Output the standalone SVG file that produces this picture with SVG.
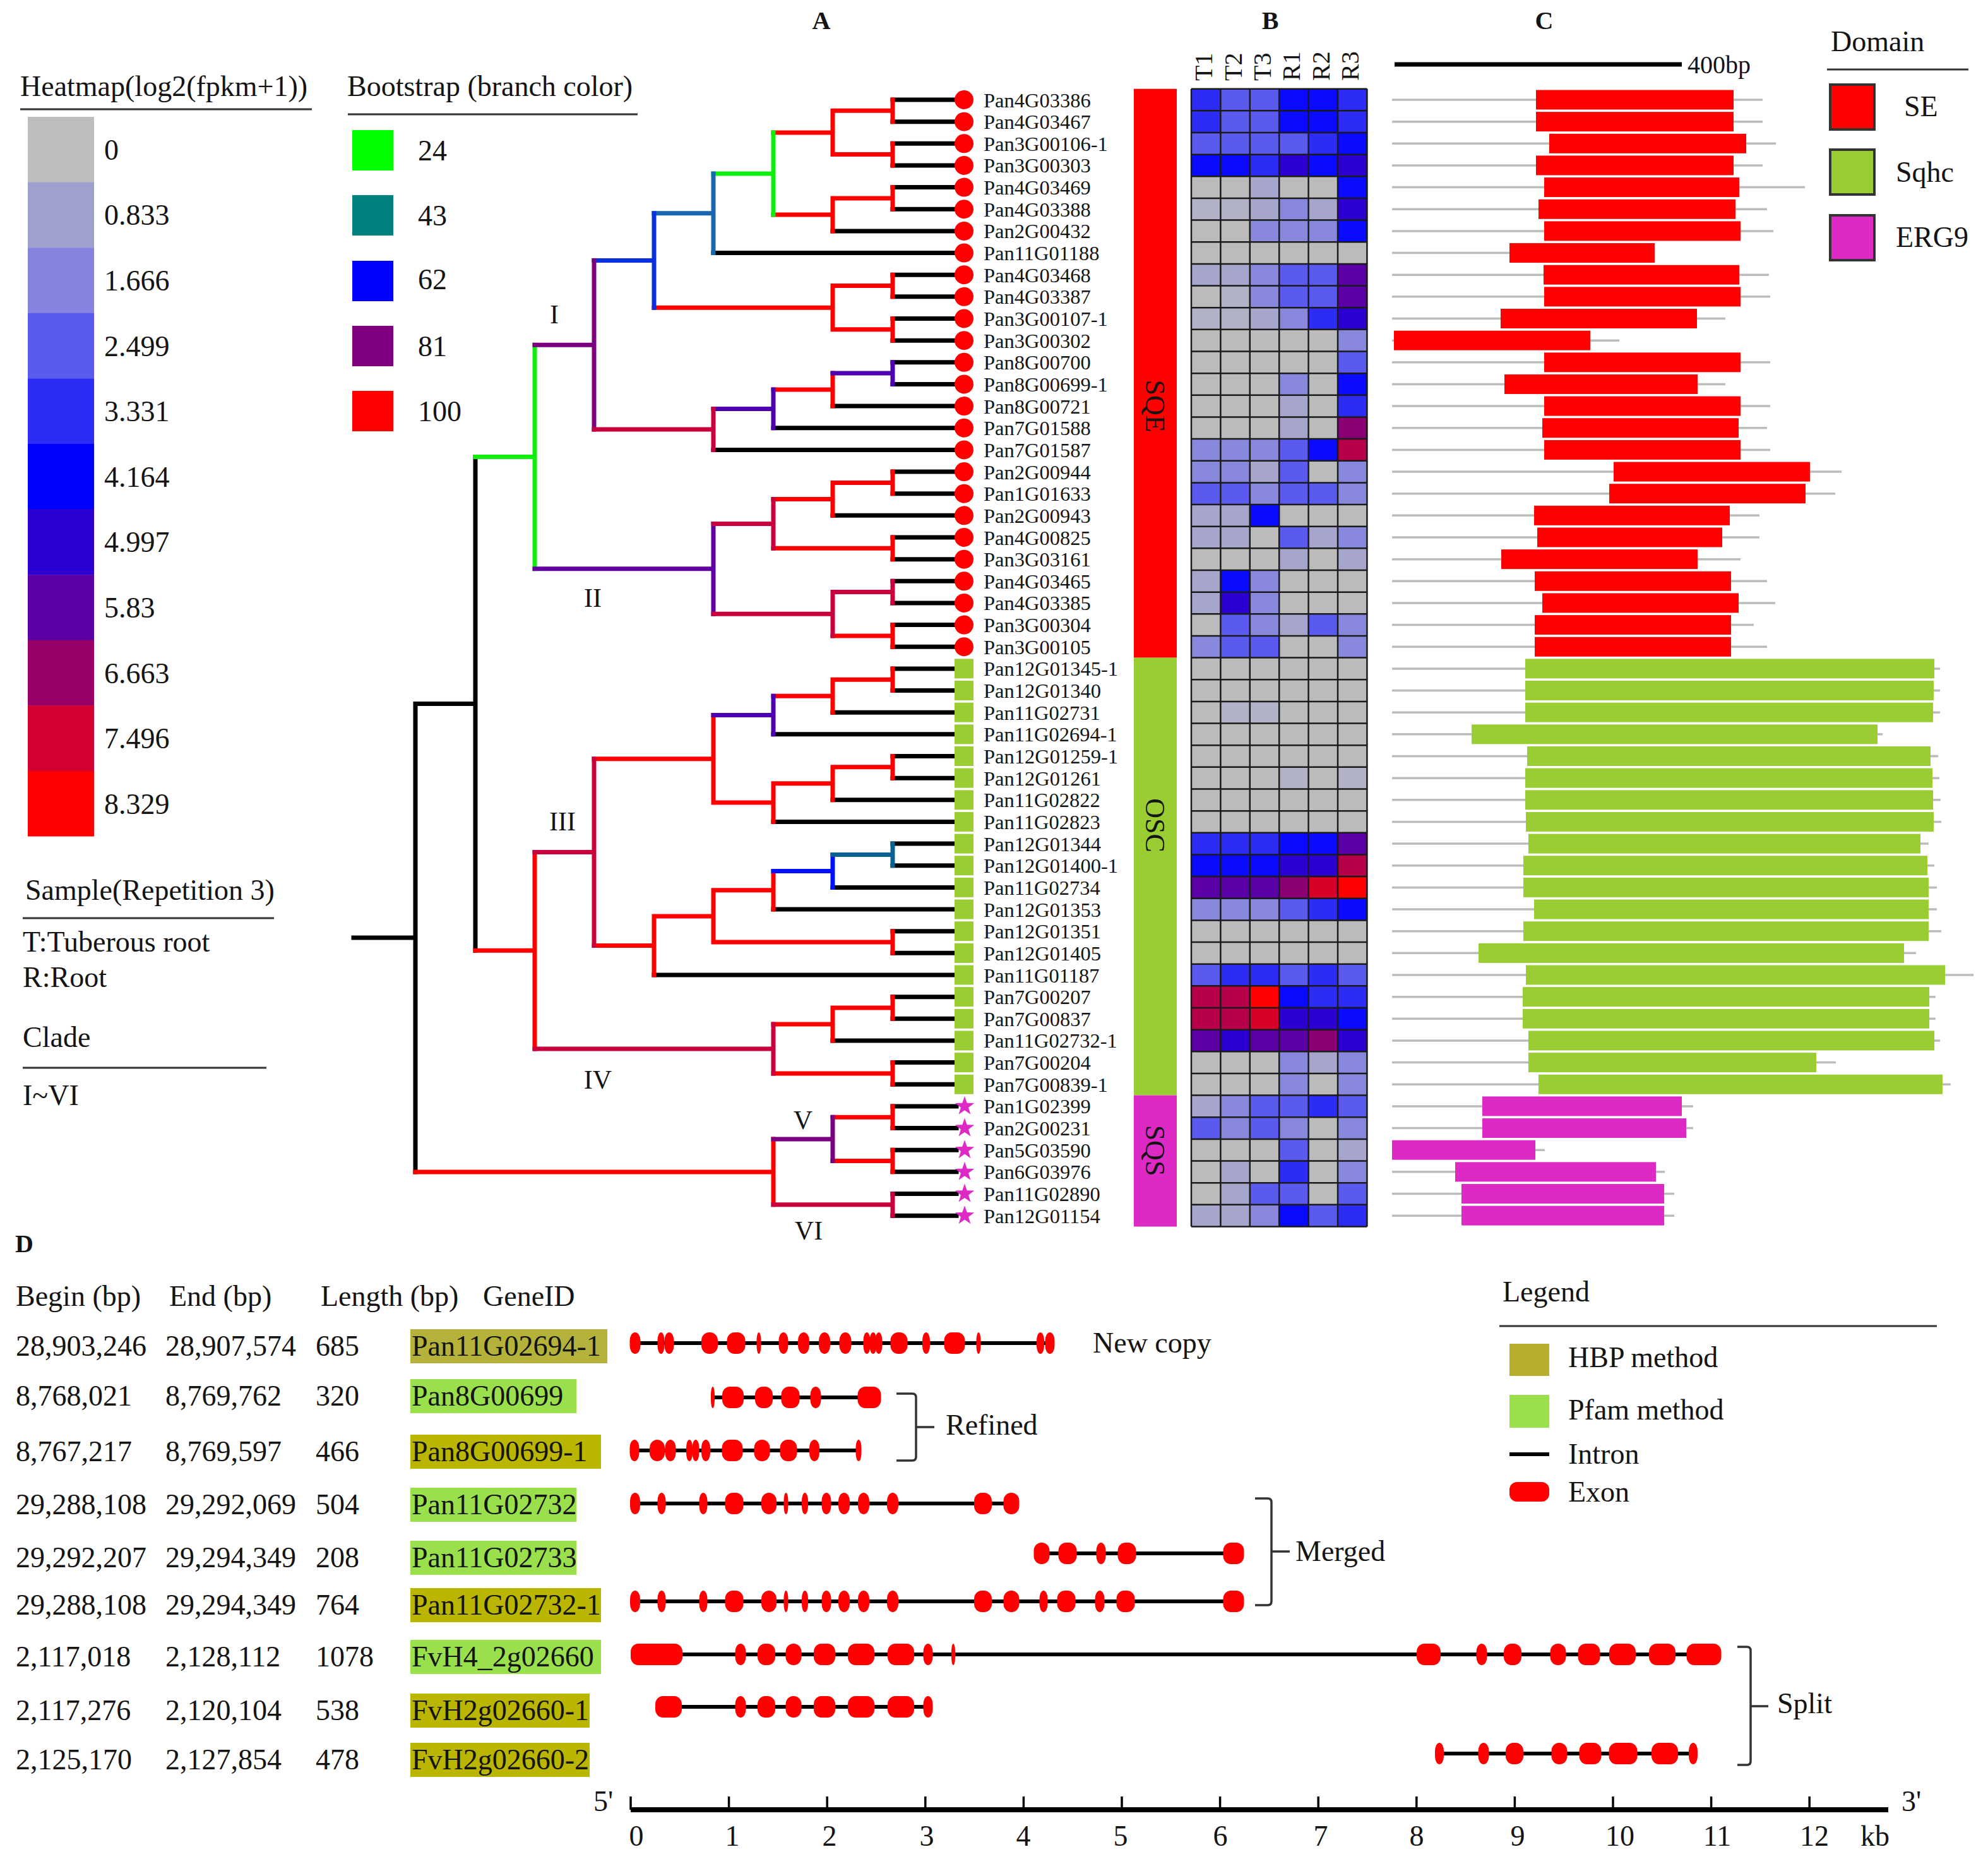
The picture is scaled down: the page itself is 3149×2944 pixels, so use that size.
<svg xmlns="http://www.w3.org/2000/svg" width="3149" height="2944" viewBox="0 0 3149 2944">
<style>
text{font-family:"Liberation Serif","Times New Roman",serif;fill:#141414}
.f46{font-size:46px}
.lf{font-size:32.5px}
.pl{font-size:40px;font-weight:bold;text-anchor:middle}
.cl{font-size:42px;text-anchor:middle}
.hd{font-size:40px}
.cat{font-size:44px;text-anchor:middle}
.ul{stroke:#333;stroke-width:3;fill:none}
.br{fill:none;stroke-width:7;stroke-linecap:square}
.k{stroke:#000}.r{stroke:#ff0000}.g{stroke:#10ee10}.sb{stroke:#1a66b0}.bl{stroke:#0a30e0}.b0{stroke:#0010ff}.tl{stroke:#0a6090}.p{stroke:#7a0080}.p2{stroke:#6000a0}.pb{stroke:#4c00b0}.c{stroke:#c8003c}
.h0{fill:#bbbbbb}.ha{fill:#b2b2c6}.h1{fill:#a6a6cc}.h2{fill:#8787dc}.h3{fill:#5a5aee}.h4{fill:#2c2cf4}.h5{fill:#0a0aff}.h6{fill:#2d00d2}.h7{fill:#5a00a5}.h8{fill:#8a0074}.h9{fill:#b8004a}.h95{fill:#d80028}.h10{fill:#ff0000}
.se{fill:#ff0000}.sq{fill:#9acd32}.er{fill:#dd2ac4}
.gl{stroke:#bcbcbc;stroke-width:3.5;fill:none}
.ex{fill:#ff0000}
.itr{stroke:#000;stroke-width:6;fill:none}
.bk{stroke:#333;stroke-width:3.5;fill:none}
.grid{stroke:#1a1a1a;stroke-width:2.5;fill:none}
.lgb{stroke:#333;stroke-width:4}
.hbp{fill:#bab600}.hbp1{fill:#b4b23a}.pf{fill:#99e04c}
</style>
<defs>
<polygon id="star" points="0,-16 3.76,-5.18 15.22,-4.94 6.09,1.98 9.4,12.94 0,6.4 -9.4,12.94 -6.09,1.98 -15.22,-4.94 -3.76,-5.18"/>
</defs>
<rect width="3149" height="2944" fill="#fff"/>

<!-- Panel labels -->
<g id="panel-labels">
<text x="1301" y="46" class="pl">A</text>
<text x="2012" y="46" class="pl">B</text>
<text x="2446" y="46" class="pl">C</text>
<text x="24" y="1983" class="pl" style="text-anchor:start">D</text>
</g>

<!-- Heatmap legend -->
<g id="heatmap-legend">
<text x="32" y="152" class="f46">Heatmap(log2(fpkm+1))</text>
<path class="ul" d="M32 173H494"/>
<rect x="44" y="185" width="105" height="104" fill="#bebebe"/>
<rect x="44" y="288.6" width="105" height="104" fill="#a0a0d0"/>
<rect x="44" y="392.2" width="105" height="104" fill="#8484de"/>
<rect x="44" y="495.8" width="105" height="104" fill="#5a5aee"/>
<rect x="44" y="599.4" width="105" height="104" fill="#2c2cf4"/>
<rect x="44" y="703" width="105" height="104" fill="#0000ff"/>
<rect x="44" y="806.6" width="105" height="104" fill="#2d00d2"/>
<rect x="44" y="910.2" width="105" height="104" fill="#5a00a5"/>
<rect x="44" y="1013.8" width="105" height="104" fill="#990066"/>
<rect x="44" y="1117.4" width="105" height="104" fill="#d10030"/>
<rect x="44" y="1221" width="105" height="103.6" fill="#ff0000"/>
<text x="165" y="252.8" class="f46">0</text>
<text x="165" y="356.4" class="f46">0.833</text>
<text x="165" y="460" class="f46">1.666</text>
<text x="165" y="563.6" class="f46">2.499</text>
<text x="165" y="667.2" class="f46">3.331</text>
<text x="165" y="770.8" class="f46">4.164</text>
<text x="165" y="874.4" class="f46">4.997</text>
<text x="165" y="978" class="f46">5.83</text>
<text x="165" y="1081.6" class="f46">6.663</text>
<text x="165" y="1185.2" class="f46">7.496</text>
<text x="165" y="1288.8" class="f46">8.329</text>
</g>

<g id="sample-legend">
<text x="40" y="1425" class="f46">Sample(Repetition 3)</text>
<path class="ul" d="M36 1454H434"/>
<text x="36" y="1507" class="f46">T:Tuberous root</text>
<text x="36" y="1563" class="f46">R:Root</text>
<text x="36" y="1658" class="f46">Clade</text>
<path class="ul" d="M36 1691H422"/>
<text x="36" y="1750" class="f46">I~VI</text>
</g>

<g id="bootstrap-legend">
<text x="550" y="152" class="f46">Bootstrap (branch color)</text>
<path class="ul" d="M551 181H1010"/>
<rect x="558" y="206" width="65" height="64" fill="#00ff00"/>
<rect x="558" y="309" width="65" height="64" fill="#008080"/>
<rect x="558" y="413" width="65" height="64" fill="#0000ff"/>
<rect x="558" y="516" width="65" height="64" fill="#800080"/>
<rect x="558" y="619" width="65" height="64" fill="#ff0000"/>
<text x="662" y="254" class="f46">24</text>
<text x="662" y="357" class="f46">43</text>
<text x="662" y="458" class="f46">62</text>
<text x="662" y="564" class="f46">81</text>
<text x="662" y="667" class="f46">100</text>
</g>

<!-- Tree connectors -->
<g id="tree-connectors">
<path class="br k" d="M1414 158H1515M1414 192.65H1515M1414 227.3H1515M1414 261.95H1515M1414 296.6H1515M1414 331.25H1515M1319 365.9H1515M1130 400.55H1515M1414 435.2H1515M1414 469.85H1515M1414 504.5H1515M1414 539.15H1515M1414 573.8H1515M1414 608.45H1515M1319 643.1H1515M1225 677.75H1515M1130 712.4H1515M1414 747.05H1515M1414 781.7H1515M1319 816.35H1515M1414 851H1515M1414 885.65H1515M1414 920.3H1515M1414 954.95H1515M1414 989.6H1515M1414 1024.25H1515M1414 1058.9H1515M1414 1093.55H1515M1319 1128.2H1515M1225 1162.85H1515M1414 1197.5H1515M1414 1232.15H1515M1319 1266.8H1515M1225 1301.45H1515M1414 1336.1H1515M1414 1370.75H1515M1319 1405.4H1515M1225 1440.05H1515M1414 1474.7H1515M1414 1509.35H1515M1036 1544H1515M1414 1578.65H1515M1414 1613.3H1515M1319 1647.95H1515M1414 1682.6H1515M1414 1717.25H1515M1414 1751.9H1515M1414 1786.55H1515M1414 1821.2H1515M1414 1855.85H1515M1414 1890.5H1515M1414 1925.15H1515"/>
<path class="br k" d="M658 1114.4H753M753 723.5V1505.3M560 1485.1H658M658 1114.4V1855.9"/>
<path class="br r" d="M1319 175.3H1414M1414 158V192.65M1319 244.6H1414M1414 227.3V261.95M1319 313.9H1414M1414 296.6V331.25M1225 210H1319M1319 175.3V244.6M1225 339.9H1319M1319 313.9V365.9M1319 452.5H1414M1414 435.2V469.85M1319 521.8H1414M1414 504.5V539.15M1036 487.2H1319M1319 452.5V521.8M1225 617.1H1319M1319 591.1V643.1M1319 764.4H1414M1414 747.05V781.7M1225 790.4H1319M1319 764.4V816.35M1225 868.3H1414M1414 851V885.65M1319 1006.9H1414M1414 989.6V1024.25M1319 1076.2H1414M1414 1058.9V1093.55M1225 1102.2H1319M1319 1076.2V1128.2M1319 1214.8H1414M1414 1197.5V1232.15M1225 1240.8H1319M1319 1214.8V1266.8M1130 1271.1H1225M1225 1240.8V1301.45M941 1201.8H1130M1130 1132.5V1271.1M1130 1409.7H1225M1225 1379.4V1440.05M1130 1492H1414M1414 1474.7V1509.35M1036 1450.9H1130M1130 1409.7V1492M941 1497.4H1036M1036 1450.9V1544M1319 1596H1414M1414 1578.65V1613.3M1225 1622H1319M1319 1596V1647.95M1225 1699.9H1414M1414 1682.6V1717.25M753 1505.3H847M847 1349.6V1661M1319 1769.2H1414M1414 1751.9V1786.55M1319 1838.5H1414M1414 1821.2V1855.85M658 1855.9H1225M1225 1803.9V1907.8"/>
<path class="br g" d="M1130 275H1225M1225 210V339.9M753 723.5H847M847 546.2V900.8"/>
<path class="br sb" d="M1036 337.8H1130M1130 275V400.55"/>
<path class="br bl" d="M941 412.5H1036M1036 337.8V487.2"/>
<path class="br b0" d="M1225 1379.4H1319M1319 1353.4V1405.4"/>
<path class="br tl" d="M1319 1353.4H1414M1414 1336.1V1370.75"/>
<path class="br p" d="M847 546.2H941M941 412.5V679.9M1225 1803.9H1319M1319 1769.2V1838.5"/>
<path class="br p2" d="M847 900.8H1130M1130 829.4V972.3"/>
<path class="br pb" d="M1130 647.4H1225M1225 617.1V677.75M1319 591.1H1414M1414 573.8V608.45M1130 1132.5H1225M1225 1102.2V1162.85"/>
<path class="br c" d="M941 679.9H1130M1130 647.4V712.4M1130 829.4H1225M1225 790.4V868.3M1319 937.6H1414M1414 920.3V954.95M1130 972.3H1319M1319 937.6V1006.9M847 1349.6H941M941 1201.8V1497.4M847 1661H1225M1225 1622V1699.9M1225 1907.8H1414M1414 1890.5V1925.15"/>
</g>

<g id="clade-labels">
<text x="878" y="512" class="cl">I</text>
<text x="939" y="961" class="cl">II</text>
<text x="891" y="1315" class="cl">III</text>
<text x="947" y="1724" class="cl">IV</text>
<text x="1272" y="1788" class="cl">V</text>
<text x="1281" y="1963" class="cl">VI</text>
</g>

<!-- Leaves -->
<g id="leaves">
<g id="leaf01"><circle cx="1527" cy="158" r="15" class="se"/><text x="1558" y="169.5" class="lf">Pan4G03386</text></g>
<g id="leaf02"><circle cx="1527" cy="192.65" r="15" class="se"/><text x="1558" y="204.15" class="lf">Pan4G03467</text></g>
<g id="leaf03"><circle cx="1527" cy="227.3" r="15" class="se"/><text x="1558" y="238.8" class="lf">Pan3G00106-1</text></g>
<g id="leaf04"><circle cx="1527" cy="261.95" r="15" class="se"/><text x="1558" y="273.45" class="lf">Pan3G00303</text></g>
<g id="leaf05"><circle cx="1527" cy="296.6" r="15" class="se"/><text x="1558" y="308.1" class="lf">Pan4G03469</text></g>
<g id="leaf06"><circle cx="1527" cy="331.25" r="15" class="se"/><text x="1558" y="342.75" class="lf">Pan4G03388</text></g>
<g id="leaf07"><circle cx="1527" cy="365.9" r="15" class="se"/><text x="1558" y="377.4" class="lf">Pan2G00432</text></g>
<g id="leaf08"><circle cx="1527" cy="400.55" r="15" class="se"/><text x="1558" y="412.05" class="lf">Pan11G01188</text></g>
<g id="leaf09"><circle cx="1527" cy="435.2" r="15" class="se"/><text x="1558" y="446.7" class="lf">Pan4G03468</text></g>
<g id="leaf10"><circle cx="1527" cy="469.85" r="15" class="se"/><text x="1558" y="481.35" class="lf">Pan4G03387</text></g>
<g id="leaf11"><circle cx="1527" cy="504.5" r="15" class="se"/><text x="1558" y="516" class="lf">Pan3G00107-1</text></g>
<g id="leaf12"><circle cx="1527" cy="539.15" r="15" class="se"/><text x="1558" y="550.65" class="lf">Pan3G00302</text></g>
<g id="leaf13"><circle cx="1527" cy="573.8" r="15" class="se"/><text x="1558" y="585.3" class="lf">Pan8G00700</text></g>
<g id="leaf14"><circle cx="1527" cy="608.45" r="15" class="se"/><text x="1558" y="619.95" class="lf">Pan8G00699-1</text></g>
<g id="leaf15"><circle cx="1527" cy="643.1" r="15" class="se"/><text x="1558" y="654.6" class="lf">Pan8G00721</text></g>
<g id="leaf16"><circle cx="1527" cy="677.75" r="15" class="se"/><text x="1558" y="689.25" class="lf">Pan7G01588</text></g>
<g id="leaf17"><circle cx="1527" cy="712.4" r="15" class="se"/><text x="1558" y="723.9" class="lf">Pan7G01587</text></g>
<g id="leaf18"><circle cx="1527" cy="747.05" r="15" class="se"/><text x="1558" y="758.55" class="lf">Pan2G00944</text></g>
<g id="leaf19"><circle cx="1527" cy="781.7" r="15" class="se"/><text x="1558" y="793.2" class="lf">Pan1G01633</text></g>
<g id="leaf20"><circle cx="1527" cy="816.35" r="15" class="se"/><text x="1558" y="827.85" class="lf">Pan2G00943</text></g>
<g id="leaf21"><circle cx="1527" cy="851" r="15" class="se"/><text x="1558" y="862.5" class="lf">Pan4G00825</text></g>
<g id="leaf22"><circle cx="1527" cy="885.65" r="15" class="se"/><text x="1558" y="897.15" class="lf">Pan3G03161</text></g>
<g id="leaf23"><circle cx="1527" cy="920.3" r="15" class="se"/><text x="1558" y="931.8" class="lf">Pan4G03465</text></g>
<g id="leaf24"><circle cx="1527" cy="954.95" r="15" class="se"/><text x="1558" y="966.45" class="lf">Pan4G03385</text></g>
<g id="leaf25"><circle cx="1527" cy="989.6" r="15" class="se"/><text x="1558" y="1001.1" class="lf">Pan3G00304</text></g>
<g id="leaf26"><circle cx="1527" cy="1024.25" r="15" class="se"/><text x="1558" y="1035.75" class="lf">Pan3G00105</text></g>
<g id="leaf27"><rect x="1512" y="1043.4" width="30" height="31" class="sq"/><text x="1558" y="1070.4" class="lf">Pan12G01345-1</text></g>
<g id="leaf28"><rect x="1512" y="1078.05" width="30" height="31" class="sq"/><text x="1558" y="1105.05" class="lf">Pan12G01340</text></g>
<g id="leaf29"><rect x="1512" y="1112.7" width="30" height="31" class="sq"/><text x="1558" y="1139.7" class="lf">Pan11G02731</text></g>
<g id="leaf30"><rect x="1512" y="1147.35" width="30" height="31" class="sq"/><text x="1558" y="1174.35" class="lf">Pan11G02694-1</text></g>
<g id="leaf31"><rect x="1512" y="1182" width="30" height="31" class="sq"/><text x="1558" y="1209" class="lf">Pan12G01259-1</text></g>
<g id="leaf32"><rect x="1512" y="1216.65" width="30" height="31" class="sq"/><text x="1558" y="1243.65" class="lf">Pan12G01261</text></g>
<g id="leaf33"><rect x="1512" y="1251.3" width="30" height="31" class="sq"/><text x="1558" y="1278.3" class="lf">Pan11G02822</text></g>
<g id="leaf34"><rect x="1512" y="1285.95" width="30" height="31" class="sq"/><text x="1558" y="1312.95" class="lf">Pan11G02823</text></g>
<g id="leaf35"><rect x="1512" y="1320.6" width="30" height="31" class="sq"/><text x="1558" y="1347.6" class="lf">Pan12G01344</text></g>
<g id="leaf36"><rect x="1512" y="1355.25" width="30" height="31" class="sq"/><text x="1558" y="1382.25" class="lf">Pan12G01400-1</text></g>
<g id="leaf37"><rect x="1512" y="1389.9" width="30" height="31" class="sq"/><text x="1558" y="1416.9" class="lf">Pan11G02734</text></g>
<g id="leaf38"><rect x="1512" y="1424.55" width="30" height="31" class="sq"/><text x="1558" y="1451.55" class="lf">Pan12G01353</text></g>
<g id="leaf39"><rect x="1512" y="1459.2" width="30" height="31" class="sq"/><text x="1558" y="1486.2" class="lf">Pan12G01351</text></g>
<g id="leaf40"><rect x="1512" y="1493.85" width="30" height="31" class="sq"/><text x="1558" y="1520.85" class="lf">Pan12G01405</text></g>
<g id="leaf41"><rect x="1512" y="1528.5" width="30" height="31" class="sq"/><text x="1558" y="1555.5" class="lf">Pan11G01187</text></g>
<g id="leaf42"><rect x="1512" y="1563.15" width="30" height="31" class="sq"/><text x="1558" y="1590.15" class="lf">Pan7G00207</text></g>
<g id="leaf43"><rect x="1512" y="1597.8" width="30" height="31" class="sq"/><text x="1558" y="1624.8" class="lf">Pan7G00837</text></g>
<g id="leaf44"><rect x="1512" y="1632.45" width="30" height="31" class="sq"/><text x="1558" y="1659.45" class="lf">Pan11G02732-1</text></g>
<g id="leaf45"><rect x="1512" y="1667.1" width="30" height="31" class="sq"/><text x="1558" y="1694.1" class="lf">Pan7G00204</text></g>
<g id="leaf46"><rect x="1512" y="1701.75" width="30" height="31" class="sq"/><text x="1558" y="1728.75" class="lf">Pan7G00839-1</text></g>
<g id="leaf47"><use href="#star" x="1528" y="1751.9" class="er"/><text x="1558" y="1763.4" class="lf">Pan1G02399</text></g>
<g id="leaf48"><use href="#star" x="1528" y="1786.55" class="er"/><text x="1558" y="1798.05" class="lf">Pan2G00231</text></g>
<g id="leaf49"><use href="#star" x="1528" y="1821.2" class="er"/><text x="1558" y="1832.7" class="lf">Pan5G03590</text></g>
<g id="leaf50"><use href="#star" x="1528" y="1855.85" class="er"/><text x="1558" y="1867.35" class="lf">Pan6G03976</text></g>
<g id="leaf51"><use href="#star" x="1528" y="1890.5" class="er"/><text x="1558" y="1902" class="lf">Pan11G02890</text></g>
<g id="leaf52"><use href="#star" x="1528" y="1925.15" class="er"/><text x="1558" y="1936.65" class="lf">Pan12G01154</text></g>
</g>

<!-- Family bar -->
<g id="family-bar">
<rect x="1796" y="140.7" width="68" height="900.9" class="se"/>
<rect x="1796" y="1041.6" width="68" height="693" class="sq"/>
<rect x="1796" y="1734.6" width="68" height="207.9" class="er"/>
<text transform="translate(1815,643) rotate(90)" class="cat">SQE</text>
<text transform="translate(1815,1307) rotate(90)" class="cat">OSC</text>
<text transform="translate(1815,1822) rotate(90)" class="cat">SQS</text>
</g>

<!-- Heatmap B -->
<g id="heatmap">
<text transform="translate(1920,128) rotate(-90)" class="hd">T1</text>
<text transform="translate(1967,128) rotate(-90)" class="hd">T2</text>
<text transform="translate(2013,128) rotate(-90)" class="hd">T3</text>
<text transform="translate(2059,128) rotate(-90)" class="hd">R1</text>
<text transform="translate(2106,128) rotate(-90)" class="hd">R2</text>
<text transform="translate(2152,128) rotate(-90)" class="hd">R3</text>
<rect x="1887" y="140.7" width="278.4" height="1801.8" class="h0"/>
<g transform="translate(0,140.7)"><rect x="1887" width="46.4" height="34.65" class="h4"/><rect x="1933.4" width="46.4" height="34.65" class="h3"/><rect x="1979.8" width="46.4" height="34.65" class="h3"/><rect x="2026.2" width="46.4" height="34.65" class="h5"/><rect x="2072.6" width="46.4" height="34.65" class="h5"/><rect x="2119" width="46.4" height="34.65" class="h4"/></g>
<g transform="translate(0,175.35)"><rect x="1887" width="46.4" height="34.65" class="h4"/><rect x="1933.4" width="46.4" height="34.65" class="h3"/><rect x="1979.8" width="46.4" height="34.65" class="h3"/><rect x="2026.2" width="46.4" height="34.65" class="h5"/><rect x="2072.6" width="46.4" height="34.65" class="h5"/><rect x="2119" width="46.4" height="34.65" class="h4"/></g>
<g transform="translate(0,210)"><rect x="1887" width="46.4" height="34.65" class="h3"/><rect x="1933.4" width="46.4" height="34.65" class="h3"/><rect x="1979.8" width="46.4" height="34.65" class="h3"/><rect x="2026.2" width="46.4" height="34.65" class="h3"/><rect x="2072.6" width="46.4" height="34.65" class="h4"/><rect x="2119" width="46.4" height="34.65" class="h5"/></g>
<g transform="translate(0,244.65)"><rect x="1887" width="46.4" height="34.65" class="h5"/><rect x="1933.4" width="46.4" height="34.65" class="h5"/><rect x="1979.8" width="46.4" height="34.65" class="h4"/><rect x="2026.2" width="46.4" height="34.65" class="h6"/><rect x="2072.6" width="46.4" height="34.65" class="h5"/><rect x="2119" width="46.4" height="34.65" class="h6"/></g>
<g transform="translate(0,279.3)"><rect x="1979.8" width="46.4" height="34.65" class="h1"/><rect x="2119" width="46.4" height="34.65" class="h5"/></g>
<g transform="translate(0,313.95)"><rect x="1887" width="46.4" height="34.65" class="ha"/><rect x="1933.4" width="46.4" height="34.65" class="ha"/><rect x="1979.8" width="46.4" height="34.65" class="h1"/><rect x="2026.2" width="46.4" height="34.65" class="h2"/><rect x="2072.6" width="46.4" height="34.65" class="h1"/><rect x="2119" width="46.4" height="34.65" class="h6"/></g>
<g transform="translate(0,348.6)"><rect x="1979.8" width="46.4" height="34.65" class="h2"/><rect x="2026.2" width="46.4" height="34.65" class="h2"/><rect x="2072.6" width="46.4" height="34.65" class="h2"/><rect x="2119" width="46.4" height="34.65" class="h5"/></g>
<g transform="translate(0,417.9)"><rect x="1887" width="46.4" height="34.65" class="h1"/><rect x="1933.4" width="46.4" height="34.65" class="h1"/><rect x="1979.8" width="46.4" height="34.65" class="h2"/><rect x="2026.2" width="46.4" height="34.65" class="h3"/><rect x="2072.6" width="46.4" height="34.65" class="h3"/><rect x="2119" width="46.4" height="34.65" class="h7"/></g>
<g transform="translate(0,452.55)"><rect x="1933.4" width="46.4" height="34.65" class="ha"/><rect x="1979.8" width="46.4" height="34.65" class="h2"/><rect x="2026.2" width="46.4" height="34.65" class="h3"/><rect x="2072.6" width="46.4" height="34.65" class="h3"/><rect x="2119" width="46.4" height="34.65" class="h7"/></g>
<g transform="translate(0,487.2)"><rect x="1887" width="46.4" height="34.65" class="ha"/><rect x="1933.4" width="46.4" height="34.65" class="ha"/><rect x="1979.8" width="46.4" height="34.65" class="h1"/><rect x="2026.2" width="46.4" height="34.65" class="h2"/><rect x="2072.6" width="46.4" height="34.65" class="h4"/><rect x="2119" width="46.4" height="34.65" class="h6"/></g>
<g transform="translate(0,521.85)"><rect x="2119" width="46.4" height="34.65" class="h2"/></g>
<g transform="translate(0,556.5)"><rect x="2119" width="46.4" height="34.65" class="h3"/></g>
<g transform="translate(0,591.15)"><rect x="2026.2" width="46.4" height="34.65" class="h2"/><rect x="2119" width="46.4" height="34.65" class="h5"/></g>
<g transform="translate(0,625.8)"><rect x="2026.2" width="46.4" height="34.65" class="h1"/><rect x="2119" width="46.4" height="34.65" class="h4"/></g>
<g transform="translate(0,660.45)"><rect x="2026.2" width="46.4" height="34.65" class="h1"/><rect x="2119" width="46.4" height="34.65" class="h8"/></g>
<g transform="translate(0,695.1)"><rect x="1887" width="46.4" height="34.65" class="h2"/><rect x="1933.4" width="46.4" height="34.65" class="h2"/><rect x="1979.8" width="46.4" height="34.65" class="h2"/><rect x="2026.2" width="46.4" height="34.65" class="h3"/><rect x="2072.6" width="46.4" height="34.65" class="h5"/><rect x="2119" width="46.4" height="34.65" class="h9"/></g>
<g transform="translate(0,729.75)"><rect x="1887" width="46.4" height="34.65" class="h2"/><rect x="1933.4" width="46.4" height="34.65" class="h2"/><rect x="1979.8" width="46.4" height="34.65" class="h1"/><rect x="2026.2" width="46.4" height="34.65" class="h3"/><rect x="2119" width="46.4" height="34.65" class="h2"/></g>
<g transform="translate(0,764.4)"><rect x="1887" width="46.4" height="34.65" class="h3"/><rect x="1933.4" width="46.4" height="34.65" class="h3"/><rect x="1979.8" width="46.4" height="34.65" class="h2"/><rect x="2026.2" width="46.4" height="34.65" class="h3"/><rect x="2072.6" width="46.4" height="34.65" class="h3"/><rect x="2119" width="46.4" height="34.65" class="h2"/></g>
<g transform="translate(0,799.05)"><rect x="1887" width="46.4" height="34.65" class="h1"/><rect x="1933.4" width="46.4" height="34.65" class="h1"/><rect x="1979.8" width="46.4" height="34.65" class="h5"/></g>
<g transform="translate(0,833.7)"><rect x="1887" width="46.4" height="34.65" class="h1"/><rect x="1933.4" width="46.4" height="34.65" class="h1"/><rect x="2026.2" width="46.4" height="34.65" class="h3"/><rect x="2072.6" width="46.4" height="34.65" class="h1"/><rect x="2119" width="46.4" height="34.65" class="h2"/></g>
<g transform="translate(0,868.35)"><rect x="2026.2" width="46.4" height="34.65" class="h1"/><rect x="2119" width="46.4" height="34.65" class="h1"/></g>
<g transform="translate(0,903)"><rect x="1887" width="46.4" height="34.65" class="h1"/><rect x="1933.4" width="46.4" height="34.65" class="h5"/><rect x="1979.8" width="46.4" height="34.65" class="h2"/></g>
<g transform="translate(0,937.65)"><rect x="1887" width="46.4" height="34.65" class="h1"/><rect x="1933.4" width="46.4" height="34.65" class="h6"/><rect x="1979.8" width="46.4" height="34.65" class="h2"/></g>
<g transform="translate(0,972.3)"><rect x="1933.4" width="46.4" height="34.65" class="h3"/><rect x="1979.8" width="46.4" height="34.65" class="h2"/><rect x="2026.2" width="46.4" height="34.65" class="h1"/><rect x="2072.6" width="46.4" height="34.65" class="h3"/><rect x="2119" width="46.4" height="34.65" class="h2"/></g>
<g transform="translate(0,1006.95)"><rect x="1887" width="46.4" height="34.65" class="h2"/><rect x="1933.4" width="46.4" height="34.65" class="h3"/><rect x="1979.8" width="46.4" height="34.65" class="h3"/><rect x="2119" width="46.4" height="34.65" class="h2"/></g>
<g transform="translate(0,1110.9)"><rect x="1933.4" width="46.4" height="34.65" class="ha"/><rect x="1979.8" width="46.4" height="34.65" class="ha"/></g>
<g transform="translate(0,1214.85)"><rect x="2026.2" width="46.4" height="34.65" class="ha"/><rect x="2119" width="46.4" height="34.65" class="ha"/></g>
<g transform="translate(0,1318.8)"><rect x="1887" width="46.4" height="34.65" class="h4"/><rect x="1933.4" width="46.4" height="34.65" class="h4"/><rect x="1979.8" width="46.4" height="34.65" class="h4"/><rect x="2026.2" width="46.4" height="34.65" class="h5"/><rect x="2072.6" width="46.4" height="34.65" class="h5"/><rect x="2119" width="46.4" height="34.65" class="h7"/></g>
<g transform="translate(0,1353.45)"><rect x="1887" width="46.4" height="34.65" class="h5"/><rect x="1933.4" width="46.4" height="34.65" class="h5"/><rect x="1979.8" width="46.4" height="34.65" class="h5"/><rect x="2026.2" width="46.4" height="34.65" class="h6"/><rect x="2072.6" width="46.4" height="34.65" class="h6"/><rect x="2119" width="46.4" height="34.65" class="h9"/></g>
<g transform="translate(0,1388.1)"><rect x="1887" width="46.4" height="34.65" class="h7"/><rect x="1933.4" width="46.4" height="34.65" class="h7"/><rect x="1979.8" width="46.4" height="34.65" class="h7"/><rect x="2026.2" width="46.4" height="34.65" class="h8"/><rect x="2072.6" width="46.4" height="34.65" class="h95"/><rect x="2119" width="46.4" height="34.65" class="h10"/></g>
<g transform="translate(0,1422.75)"><rect x="1887" width="46.4" height="34.65" class="h2"/><rect x="1933.4" width="46.4" height="34.65" class="h2"/><rect x="1979.8" width="46.4" height="34.65" class="h2"/><rect x="2026.2" width="46.4" height="34.65" class="h3"/><rect x="2072.6" width="46.4" height="34.65" class="h4"/><rect x="2119" width="46.4" height="34.65" class="h5"/></g>
<g transform="translate(0,1526.7)"><rect x="1887" width="46.4" height="34.65" class="h3"/><rect x="1933.4" width="46.4" height="34.65" class="h4"/><rect x="1979.8" width="46.4" height="34.65" class="h4"/><rect x="2026.2" width="46.4" height="34.65" class="h3"/><rect x="2072.6" width="46.4" height="34.65" class="h4"/><rect x="2119" width="46.4" height="34.65" class="h3"/></g>
<g transform="translate(0,1561.35)"><rect x="1887" width="46.4" height="34.65" class="h9"/><rect x="1933.4" width="46.4" height="34.65" class="h9"/><rect x="1979.8" width="46.4" height="34.65" class="h10"/><rect x="2026.2" width="46.4" height="34.65" class="h5"/><rect x="2072.6" width="46.4" height="34.65" class="h4"/><rect x="2119" width="46.4" height="34.65" class="h4"/></g>
<g transform="translate(0,1596)"><rect x="1887" width="46.4" height="34.65" class="h9"/><rect x="1933.4" width="46.4" height="34.65" class="h9"/><rect x="1979.8" width="46.4" height="34.65" class="h95"/><rect x="2026.2" width="46.4" height="34.65" class="h6"/><rect x="2072.6" width="46.4" height="34.65" class="h6"/><rect x="2119" width="46.4" height="34.65" class="h5"/></g>
<g transform="translate(0,1630.65)"><rect x="1887" width="46.4" height="34.65" class="h7"/><rect x="1933.4" width="46.4" height="34.65" class="h6"/><rect x="1979.8" width="46.4" height="34.65" class="h7"/><rect x="2026.2" width="46.4" height="34.65" class="h7"/><rect x="2072.6" width="46.4" height="34.65" class="h8"/><rect x="2119" width="46.4" height="34.65" class="h6"/></g>
<g transform="translate(0,1665.3)"><rect x="2026.2" width="46.4" height="34.65" class="h2"/><rect x="2072.6" width="46.4" height="34.65" class="h1"/><rect x="2119" width="46.4" height="34.65" class="h2"/></g>
<g transform="translate(0,1699.95)"><rect x="2026.2" width="46.4" height="34.65" class="h2"/><rect x="2119" width="46.4" height="34.65" class="h2"/></g>
<g transform="translate(0,1734.6)"><rect x="1887" width="46.4" height="34.65" class="h1"/><rect x="1933.4" width="46.4" height="34.65" class="h2"/><rect x="1979.8" width="46.4" height="34.65" class="h3"/><rect x="2026.2" width="46.4" height="34.65" class="h3"/><rect x="2072.6" width="46.4" height="34.65" class="h4"/><rect x="2119" width="46.4" height="34.65" class="h3"/></g>
<g transform="translate(0,1769.25)"><rect x="1887" width="46.4" height="34.65" class="h3"/><rect x="1933.4" width="46.4" height="34.65" class="h2"/><rect x="1979.8" width="46.4" height="34.65" class="h3"/><rect x="2026.2" width="46.4" height="34.65" class="h2"/><rect x="2119" width="46.4" height="34.65" class="h2"/></g>
<g transform="translate(0,1803.9)"><rect x="2026.2" width="46.4" height="34.65" class="h3"/><rect x="2119" width="46.4" height="34.65" class="h1"/></g>
<g transform="translate(0,1838.55)"><rect x="1933.4" width="46.4" height="34.65" class="h1"/><rect x="2026.2" width="46.4" height="34.65" class="h4"/><rect x="2119" width="46.4" height="34.65" class="h2"/></g>
<g transform="translate(0,1873.2)"><rect x="1933.4" width="46.4" height="34.65" class="h1"/><rect x="1979.8" width="46.4" height="34.65" class="h3"/><rect x="2026.2" width="46.4" height="34.65" class="h3"/><rect x="2119" width="46.4" height="34.65" class="h3"/></g>
<g transform="translate(0,1907.85)"><rect x="1887" width="46.4" height="34.65" class="h1"/><rect x="1933.4" width="46.4" height="34.65" class="h1"/><rect x="1979.8" width="46.4" height="34.65" class="h2"/><rect x="2026.2" width="46.4" height="34.65" class="h5"/><rect x="2072.6" width="46.4" height="34.65" class="h3"/><rect x="2119" width="46.4" height="34.65" class="h4"/></g>
<path class="grid" d="M1887 140.7V1942.5M1933.4 140.7V1942.5M1979.8 140.7V1942.5M2026.2 140.7V1942.5M2072.6 140.7V1942.5M2119 140.7V1942.5M2165.4 140.7V1942.5M1887 140.7H2165.4M1887 175.35H2165.4M1887 210H2165.4M1887 244.65H2165.4M1887 279.3H2165.4M1887 313.95H2165.4M1887 348.6H2165.4M1887 383.25H2165.4M1887 417.9H2165.4M1887 452.55H2165.4M1887 487.2H2165.4M1887 521.85H2165.4M1887 556.5H2165.4M1887 591.15H2165.4M1887 625.8H2165.4M1887 660.45H2165.4M1887 695.1H2165.4M1887 729.75H2165.4M1887 764.4H2165.4M1887 799.05H2165.4M1887 833.7H2165.4M1887 868.35H2165.4M1887 903H2165.4M1887 937.65H2165.4M1887 972.3H2165.4M1887 1006.95H2165.4M1887 1041.6H2165.4M1887 1076.25H2165.4M1887 1110.9H2165.4M1887 1145.55H2165.4M1887 1180.2H2165.4M1887 1214.85H2165.4M1887 1249.5H2165.4M1887 1284.15H2165.4M1887 1318.8H2165.4M1887 1353.45H2165.4M1887 1388.1H2165.4M1887 1422.75H2165.4M1887 1457.4H2165.4M1887 1492.05H2165.4M1887 1526.7H2165.4M1887 1561.35H2165.4M1887 1596H2165.4M1887 1630.65H2165.4M1887 1665.3H2165.4M1887 1699.95H2165.4M1887 1734.6H2165.4M1887 1769.25H2165.4M1887 1803.9H2165.4M1887 1838.55H2165.4M1887 1873.2H2165.4M1887 1907.85H2165.4M1887 1942.5H2165.4"/>
</g>

<!-- Panel C -->
<g id="domains">
<path d="M2209 102H2664" stroke="#000" stroke-width="7"/>
<text x="2673" y="116" class="hd">400bp</text>
<path class="gl" d="M2205 158H2792M2205 192.65H2792M2205 227.3H2813M2205 261.95H2792M2205 296.6H2859M2205 331.25H2799M2205 365.9H2809M2205 400.55H2621M2205 435.2H2802M2205 469.85H2804M2205 504.5H2733M2205 539.15H2565M2205 573.8H2804M2205 608.45H2733M2205 643.1H2804M2205 677.75H2799M2205 712.4H2804M2205 747.05H2917M2205 781.7H2907M2205 816.35H2787M2205 851H2787M2205 885.65H2757M2205 920.3H2799M2205 954.95H2812M2205 989.6H2778M2205 1024.25H2799M2205 1058.9H3073M2205 1093.55H3073M2205 1128.2H3073M2205 1162.85H2982M2205 1197.5H3070M2205 1232.15H3072M2205 1266.8H3074M2205 1301.45H3075M2205 1336.1H3055M2205 1370.75H3064M2205 1405.4H3068M2205 1440.05H3068M2205 1474.7H3075M2205 1509.35H3035M2205 1544H3126M2205 1578.65H3066M2205 1613.3H3066M2205 1647.95H3073M2205 1682.6H2908M2205 1717.25H3090M2205 1751.9H2682M2205 1786.55H2682M2205 1821.2H2447M2205 1855.85H2637M2205 1890.5H2652M2205 1925.15H2652"/>
<g class="se">
<rect x="2433" y="142.5" width="313" height="31"/>
<rect x="2433" y="177.15" width="313" height="31"/>
<rect x="2454" y="211.8" width="312" height="31"/>
<rect x="2433" y="246.45" width="313" height="31"/>
<rect x="2446" y="281.1" width="309" height="31"/>
<rect x="2437" y="315.75" width="312" height="31"/>
<rect x="2446" y="350.4" width="311" height="31"/>
<rect x="2391" y="385.05" width="230" height="31"/>
<rect x="2445" y="419.7" width="310" height="31"/>
<rect x="2446" y="454.35" width="311" height="31"/>
<rect x="2377" y="489" width="311" height="31"/>
<rect x="2208" y="523.65" width="311" height="31"/>
<rect x="2446" y="558.3" width="311" height="31"/>
<rect x="2383" y="592.95" width="306" height="31"/>
<rect x="2446" y="627.6" width="311" height="31"/>
<rect x="2443" y="662.25" width="311" height="31"/>
<rect x="2446" y="696.9" width="311" height="31"/>
<rect x="2556" y="731.55" width="311" height="31"/>
<rect x="2549" y="766.2" width="311" height="31"/>
<rect x="2430" y="800.85" width="310" height="31"/>
<rect x="2435" y="835.5" width="293" height="31"/>
<rect x="2378" y="870.15" width="311" height="31"/>
<rect x="2431" y="904.8" width="311" height="31"/>
<rect x="2443" y="939.45" width="311" height="31"/>
<rect x="2431" y="974.1" width="311" height="31"/>
<rect x="2431" y="1008.75" width="311" height="31"/>
</g>
<g class="sq">
<rect x="2416" y="1043.4" width="648" height="31"/>
<rect x="2416" y="1078.05" width="647" height="31"/>
<rect x="2416" y="1112.7" width="646" height="31"/>
<rect x="2331" y="1147.35" width="643" height="31"/>
<rect x="2419" y="1182" width="639" height="31"/>
<rect x="2416" y="1216.65" width="645" height="31"/>
<rect x="2416" y="1251.3" width="646" height="31"/>
<rect x="2417" y="1285.95" width="646" height="31"/>
<rect x="2421" y="1320.6" width="621" height="31"/>
<rect x="2413" y="1355.25" width="640" height="31"/>
<rect x="2413" y="1389.9" width="642" height="31"/>
<rect x="2430" y="1424.55" width="625" height="31"/>
<rect x="2413" y="1459.2" width="642" height="31"/>
<rect x="2342" y="1493.85" width="674" height="31"/>
<rect x="2417" y="1528.5" width="664" height="31"/>
<rect x="2412" y="1563.15" width="644" height="31"/>
<rect x="2412" y="1597.8" width="644" height="31"/>
<rect x="2421" y="1632.45" width="643" height="31"/>
<rect x="2421" y="1667.1" width="456" height="31"/>
<rect x="2437" y="1701.75" width="640" height="31"/>
</g>
<g class="er">
<rect x="2348" y="1736.4" width="316" height="31"/>
<rect x="2348" y="1771.05" width="323" height="31"/>
<rect x="2205" y="1805.7" width="227" height="31"/>
<rect x="2305" y="1840.35" width="318" height="31"/>
<rect x="2315" y="1875" width="321" height="31"/>
<rect x="2315" y="1909.65" width="321" height="31"/>
</g>
</g>

<g id="domain-legend">
<text x="2900" y="81" class="f46">Domain</text>
<path class="ul" d="M2894 110H3118"/>
<rect x="2899" y="134" width="70" height="71" class="se lgb"/>
<rect x="2899" y="237" width="70" height="71" class="sq lgb"/>
<rect x="2899" y="341" width="70" height="71" class="er lgb"/>
<text x="3016" y="184" class="f46">SE</text>
<text x="3003" y="288" class="f46">Sqhc</text>
<text x="3003" y="391" class="f46">ERG9</text>
</g>

<!-- Panel D table -->
<g id="table-d">
<text x="25" y="2068" class="f46">Begin (bp)</text>
<text x="268" y="2068" class="f46">End (bp)</text>
<text x="508" y="2068" class="f46">Length (bp)</text>
<text x="765" y="2068" class="f46">GeneID</text>
<rect x="650" y="2105" width="312" height="54" class="hbp1"/>
<rect x="650" y="2184" width="263" height="54" class="pf"/>
<rect x="650" y="2272" width="302" height="54" class="hbp"/>
<rect x="650" y="2356" width="263" height="54" class="pf"/>
<rect x="650" y="2440" width="263" height="54" class="pf"/>
<rect x="650" y="2515" width="302" height="54" class="hbp"/>
<rect x="650" y="2597" width="302" height="54" class="pf"/>
<rect x="650" y="2682" width="284" height="54" class="hbp"/>
<rect x="650" y="2760" width="284" height="54" class="hbp"/>
<text x="25" y="2147" class="f46">28,903,246</text><text x="262" y="2147" class="f46">28,907,574</text><text x="500" y="2147" class="f46">685</text><text x="652" y="2147" class="f46">Pan11G02694-1</text>
<text x="25" y="2226" class="f46">8,768,021</text><text x="262" y="2226" class="f46">8,769,762</text><text x="500" y="2226" class="f46">320</text><text x="652" y="2226" class="f46">Pan8G00699</text>
<text x="25" y="2314" class="f46">8,767,217</text><text x="262" y="2314" class="f46">8,769,597</text><text x="500" y="2314" class="f46">466</text><text x="652" y="2314" class="f46">Pan8G00699-1</text>
<text x="25" y="2398" class="f46">29,288,108</text><text x="262" y="2398" class="f46">29,292,069</text><text x="500" y="2398" class="f46">504</text><text x="652" y="2398" class="f46">Pan11G02732</text>
<text x="25" y="2482" class="f46">29,292,207</text><text x="262" y="2482" class="f46">29,294,349</text><text x="500" y="2482" class="f46">208</text><text x="652" y="2482" class="f46">Pan11G02733</text>
<text x="25" y="2557" class="f46">29,288,108</text><text x="262" y="2557" class="f46">29,294,349</text><text x="500" y="2557" class="f46">764</text><text x="652" y="2557" class="f46">Pan11G02732-1</text>
<text x="25" y="2639" class="f46">2,117,018</text><text x="262" y="2639" class="f46">2,128,112</text><text x="500" y="2639" class="f46">1078</text><text x="652" y="2639" class="f46">FvH4_2g02660</text>
<text x="25" y="2724" class="f46">2,117,276</text><text x="262" y="2724" class="f46">2,120,104</text><text x="500" y="2724" class="f46">538</text><text x="652" y="2724" class="f46">FvH2g02660-1</text>
<text x="25" y="2802" class="f46">2,125,170</text><text x="262" y="2802" class="f46">2,127,854</text><text x="500" y="2802" class="f46">478</text><text x="652" y="2802" class="f46">FvH2g02660-2</text>
</g>

<!-- Panel D gene structures -->
<g id="gene-structures">
<path class="itr" d="M998 2127H1669M1128 2213H1394M1005 2297H1357M998 2381H1614M1639 2460H1969M998 2536H1969M999 2620H2724M1041 2703H1476M2275 2777H2686"/>
<g class="ex">
<g transform="translate(0,2110)">
<rect x="997.5" width="17" height="34" rx="12" ry="13"/><rect x="1041.5" width="11" height="34" rx="12" ry="13"/><rect x="1052.5" width="15" height="34" rx="12" ry="13"/><rect x="1111" width="26" height="34" rx="12" ry="13"/><rect x="1151.5" width="29" height="34" rx="12" ry="13"/><rect x="1198.5" width="7" height="34" rx="12" ry="13"/><rect x="1233.5" width="15" height="34" rx="12" ry="13"/><rect x="1264" width="18" height="34" rx="12" ry="13"/><rect x="1297" width="18" height="34" rx="12" ry="13"/><rect x="1329.5" width="19" height="34" rx="12" ry="13"/><rect x="1367.5" width="11" height="34" rx="12" ry="13"/><rect x="1377.5" width="11" height="34" rx="12" ry="13"/><rect x="1386.5" width="11" height="34" rx="12" ry="13"/><rect x="1410.5" width="27" height="34" rx="12" ry="13"/><rect x="1461" width="12" height="34" rx="12" ry="13"/><rect x="1495.5" width="33" height="34" rx="12" ry="13"/><rect x="1546.5" width="7" height="34" rx="12" ry="13"/><rect x="1642" width="12" height="34" rx="12" ry="13"/><rect x="1655.5" width="15" height="34" rx="12" ry="13"/>
</g>
<g transform="translate(0,2196)">
<rect x="1126" width="6" height="34" rx="12" ry="13"/><rect x="1144" width="34" height="34" rx="12" ry="13"/><rect x="1196" width="28" height="34" rx="12" ry="13"/><rect x="1237.5" width="29" height="34" rx="12" ry="13"/><rect x="1283.5" width="17" height="34" rx="12" ry="13"/><rect x="1358.5" width="37" height="34" rx="12" ry="13"/>
</g>
<g transform="translate(0,2280)">
<rect x="997.5" width="15" height="34" rx="12" ry="13"/><rect x="1029" width="24" height="34" rx="12" ry="13"/><rect x="1053.5" width="17" height="34" rx="12" ry="13"/><rect x="1087" width="10" height="34" rx="12" ry="13"/><rect x="1096.5" width="11" height="34" rx="12" ry="13"/><rect x="1111" width="14" height="34" rx="12" ry="13"/><rect x="1143.5" width="33" height="34" rx="12" ry="13"/><rect x="1194.5" width="25" height="34" rx="12" ry="13"/><rect x="1235.5" width="27" height="34" rx="12" ry="13"/><rect x="1282" width="16" height="34" rx="12" ry="13"/><rect x="1355.5" width="9" height="34" rx="12" ry="13"/>
</g>
<g transform="translate(0,2364)">
<rect x="998" width="16" height="34" rx="12" ry="13"/><rect x="1041.5" width="13" height="34" rx="12" ry="13"/><rect x="1107.5" width="13" height="34" rx="12" ry="13"/><rect x="1148.5" width="29" height="34" rx="12" ry="13"/><rect x="1206" width="24" height="34" rx="12" ry="13"/><rect x="1241.5" width="7" height="34" rx="12" ry="13"/><rect x="1270" width="10" height="34" rx="12" ry="13"/><rect x="1301.5" width="15" height="34" rx="12" ry="13"/><rect x="1328" width="18" height="34" rx="12" ry="13"/><rect x="1359" width="18" height="34" rx="12" ry="13"/><rect x="1405" width="18" height="34" rx="12" ry="13"/><rect x="1543" width="28" height="34" rx="12" ry="13"/><rect x="1589.5" width="25" height="34" rx="12" ry="13"/>
</g>
<g transform="translate(0,2443)">
<rect x="1637.5" width="25" height="34" rx="12" ry="13"/><rect x="1676.5" width="29" height="34" rx="12" ry="13"/><rect x="1736.5" width="15" height="34" rx="12" ry="13"/><rect x="1770.5" width="29" height="34" rx="12" ry="13"/><rect x="1937.5" width="33" height="34" rx="12" ry="13"/>
</g>
<g transform="translate(0,2519)">
<rect x="998" width="16" height="34" rx="12" ry="13"/><rect x="1041.5" width="13" height="34" rx="12" ry="13"/><rect x="1107.5" width="13" height="34" rx="12" ry="13"/><rect x="1148.5" width="29" height="34" rx="12" ry="13"/><rect x="1206" width="24" height="34" rx="12" ry="13"/><rect x="1241.5" width="7" height="34" rx="12" ry="13"/><rect x="1270" width="10" height="34" rx="12" ry="13"/><rect x="1301.5" width="15" height="34" rx="12" ry="13"/><rect x="1328" width="18" height="34" rx="12" ry="13"/><rect x="1359" width="18" height="34" rx="12" ry="13"/><rect x="1405" width="18" height="34" rx="12" ry="13"/><rect x="1543" width="28" height="34" rx="12" ry="13"/><rect x="1589.5" width="25" height="34" rx="12" ry="13"/><rect x="1646.5" width="13" height="34" rx="12" ry="13"/><rect x="1674.5" width="29" height="34" rx="12" ry="13"/><rect x="1734.5" width="15" height="34" rx="12" ry="13"/><rect x="1768.5" width="29" height="34" rx="12" ry="13"/><rect x="1937.5" width="33" height="34" rx="12" ry="13"/>
</g>
<g transform="translate(0,2603)">
<rect x="999" width="82" height="34" rx="12" ry="13"/><rect x="1164.5" width="17" height="34" rx="12" ry="13"/><rect x="1200" width="28" height="34" rx="12" ry="13"/><rect x="1244.5" width="25" height="34" rx="12" ry="13"/><rect x="1289" width="34" height="34" rx="12" ry="13"/><rect x="1343" width="42" height="34" rx="12" ry="13"/><rect x="1406" width="42" height="34" rx="12" ry="13"/><rect x="1462.5" width="15" height="34" rx="12" ry="13"/><rect x="1507" width="6" height="34" rx="12" ry="13"/><rect x="2244" width="38" height="34" rx="12" ry="13"/><rect x="2338.5" width="17" height="34" rx="12" ry="13"/><rect x="2382" width="28" height="34" rx="12" ry="13"/><rect x="2455.5" width="25" height="34" rx="12" ry="13"/><rect x="2499.5" width="35" height="34" rx="12" ry="13"/><rect x="2549" width="42" height="34" rx="12" ry="13"/><rect x="2612" width="42" height="34" rx="12" ry="13"/><rect x="2671.5" width="55" height="34" rx="12" ry="13"/>
</g>
<g transform="translate(0,2686)">
<rect x="1038" width="42" height="34" rx="12" ry="13"/><rect x="1164.5" width="17" height="34" rx="12" ry="13"/><rect x="1200" width="28" height="34" rx="12" ry="13"/><rect x="1244.5" width="25" height="34" rx="12" ry="13"/><rect x="1289" width="34" height="34" rx="12" ry="13"/><rect x="1343" width="42" height="34" rx="12" ry="13"/><rect x="1406" width="42" height="34" rx="12" ry="13"/><rect x="1462.5" width="15" height="34" rx="12" ry="13"/>
</g>
<g transform="translate(0,2760)">
<rect x="2273" width="14" height="34" rx="12" ry="13"/><rect x="2341.5" width="17" height="34" rx="12" ry="13"/><rect x="2385" width="28" height="34" rx="12" ry="13"/><rect x="2457.5" width="25" height="34" rx="12" ry="13"/><rect x="2501.5" width="35" height="34" rx="12" ry="13"/><rect x="2548.5" width="45" height="34" rx="12" ry="13"/><rect x="2616" width="42" height="34" rx="12" ry="13"/><rect x="2675" width="14" height="34" rx="12" ry="13"/>
</g>
</g>
</g>

<g id="brackets">
<path class="bk" d="M1420 2207H1445Q1451 2207 1451 2213V2307Q1451 2313 1445 2313H1420M1451 2260H1480"/>
<path class="bk" d="M1988 2373H2008Q2014 2373 2014 2379V2536Q2014 2542 2008 2542H1988M2014 2457H2043"/>
<path class="bk" d="M2752 2608H2767Q2773 2608 2773 2614V2789Q2773 2795 2767 2795H2752M2773 2702H2801"/>
<text x="1731" y="2142" class="f46">New copy</text>
<text x="1498" y="2272" class="f46">Refined</text>
<text x="2052" y="2472" class="f46">Merged</text>
<text x="2815" y="2713" class="f46">Split</text>
</g>

<g id="scale-axis">
<path d="M999 2866H2991" stroke="#000" stroke-width="8"/>
<path d="M999 2866V2845M1154.6 2866V2845M1310.2 2866V2845M1465.8 2866V2845M1621.4 2866V2845M1777 2866V2845M1932.6 2866V2845M2088.2 2866V2845M2243.8 2866V2845M2399.4 2866V2845M2555 2866V2845M2710.6 2866V2845M2866.2 2866V2845" stroke="#000" stroke-width="3.5"/>
<g class="f46" style="text-anchor:middle">
<text x="1008" y="2923">0</text><text x="1160" y="2923">1</text><text x="1314" y="2923">2</text><text x="1468" y="2923">3</text><text x="1621" y="2923">4</text><text x="1775" y="2923">5</text><text x="1933" y="2923">6</text><text x="2092" y="2923">7</text><text x="2244" y="2923">8</text><text x="2404" y="2923">9</text><text x="2566" y="2923">10</text><text x="2720" y="2923">11</text><text x="2874" y="2923">12</text><text x="2970" y="2923">kb</text>
</g>
<text x="940" y="2868" class="f46">5'</text>
<text x="3012" y="2868" class="f46">3'</text>
</g>

<g id="legend-d">
<text x="2380" y="2061" class="f46">Legend</text>
<path class="ul" d="M2375 2100H3068"/>
<rect x="2391" y="2128" width="63" height="51" fill="#b8ae2e"/>
<rect x="2391" y="2209" width="63" height="52" class="pf"/>
<path d="M2391 2303H2454" stroke="#000" stroke-width="6"/>
<rect x="2391" y="2347" width="63" height="31" rx="12" ry="12" class="ex"/>
<text x="2484" y="2165" class="f46">HBP method</text>
<text x="2484" y="2248" class="f46">Pfam method</text>
<text x="2484" y="2318" class="f46">Intron</text>
<text x="2484" y="2378" class="f46">Exon</text>
</g>
</svg>
